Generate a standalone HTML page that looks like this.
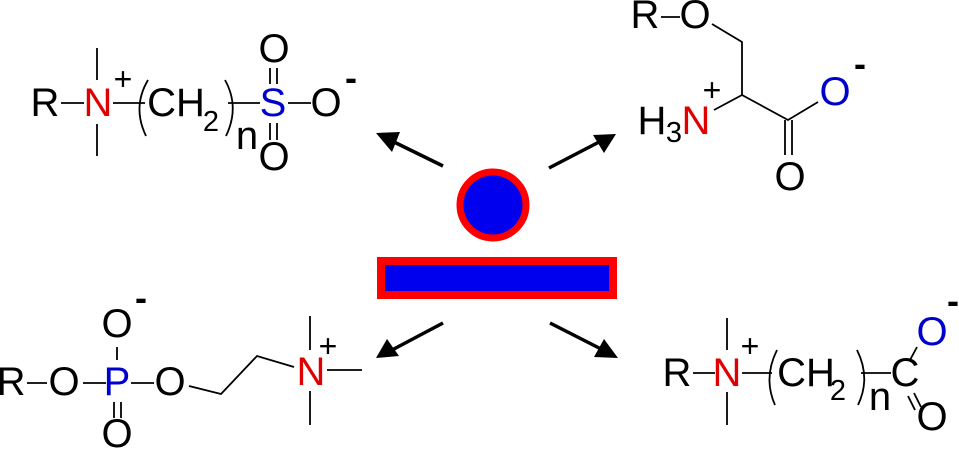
<!DOCTYPE html>
<html><head><meta charset="utf-8"><style>
html,body{margin:0;padding:0;background:#fff;}
svg{display:block}
svg text{font-family:"Liberation Sans",Arial,sans-serif;font-size:40px;text-anchor:middle;fill:#000;}
svg text.s{font-size:29px;}
svg text.p{font-size:32px;}
svg text.m{font-size:36px;font-weight:bold;}
svg text.r{fill:#e00000;}
svg text.b{fill:#0000cc;}
</style></head><body>
<svg width="959" height="450" viewBox="0 0 959 450" xmlns="http://www.w3.org/2000/svg">
<g stroke="#000" stroke-width="1.8" fill="none">
<line x1="61" y1="103" x2="84" y2="103"/>
<line x1="97" y1="48" x2="97" y2="80"/>
<line x1="97" y1="124" x2="97" y2="156"/>
<line x1="113" y1="103" x2="145" y2="103"/>
<path d="M148 80 Q132 107 146 136"/>
<path d="M225 80 Q240 107 226 136"/>
<line x1="228" y1="103" x2="260" y2="103"/>
<line x1="270" y1="68" x2="270" y2="84"/><line x1="277" y1="68" x2="277" y2="84"/>
<line x1="270" y1="123" x2="270" y2="140"/><line x1="277" y1="123" x2="277" y2="140"/>
<line x1="288" y1="103" x2="311" y2="103"/>
<line x1="661" y1="17" x2="680" y2="17"/>
<polyline points="712,24 742,42 742,95 714,110"/>
<polyline points="742,95 788,120 818,102"/>
<line x1="785" y1="120" x2="785" y2="155"/><line x1="792" y1="120" x2="792" y2="155"/>
<line x1="27" y1="383" x2="47" y2="383"/>
<line x1="83" y1="383" x2="106" y2="383"/>
<line x1="131" y1="383" x2="154" y2="383"/>
<line x1="117" y1="347" x2="117" y2="360"/>
<line x1="114" y1="402" x2="114" y2="418"/><line x1="121" y1="402" x2="121" y2="418"/>
<polyline points="189,386 221,394 257,356 294,367"/>
<line x1="310" y1="316" x2="310" y2="350"/>
<line x1="310" y1="391" x2="310" y2="425"/>
<line x1="327" y1="370" x2="362" y2="370"/>
<line x1="693" y1="373" x2="715" y2="373"/>
<line x1="727" y1="318" x2="727" y2="350"/>
<line x1="727" y1="392" x2="727" y2="425"/>
<line x1="742" y1="373" x2="772" y2="373"/>
<path d="M777 350 Q763 378 775 405"/>
<path d="M857 350 Q871 378 858 405"/>
<line x1="861" y1="373" x2="891" y2="373"/>
<line x1="910" y1="360" x2="917" y2="347"/>
<line x1="908" y1="396" x2="915" y2="410"/><line x1="914" y1="393" x2="921" y2="407"/>
</g>
<g stroke="#000" stroke-width="3.5">
<line x1="443" y1="166" x2="392" y2="141"/>
<line x1="549" y1="168" x2="601" y2="141"/>
<line x1="443" y1="323" x2="392" y2="350"/>
<line x1="550" y1="323" x2="603" y2="350"/>
</g>
<g fill="#000">
<polygon points="376,133 400,132 392,152"/>
<polygon points="616,134 604,153 593,135"/>
<polygon points="376,358 387,339 399,356"/>
<polygon points="618,358 594,357 604,339"/>
</g>
<circle cx="493" cy="205" r="33" fill="#0000ee" stroke="#ff0000" stroke-width="7"/>
<rect x="381" y="261" width="232" height="34" fill="#0000ee" stroke="#ff0000" stroke-width="8"/>

<text x="45" y="116">R</text>
<text x="98" y="116" class="r">N</text>
<text x="123" y="90" class="p">+</text>
<text x="176" y="116">CH</text>
<text x="211" y="131" class="s">2</text>
<text x="247" y="149">n</text>
<text x="273" y="116" class="b">S</text>
<text x="274" y="62">O</text>
<text x="274" y="170">O</text>
<text x="326" y="116">O</text>
<text x="351" y="90" class="m">-</text>

<text x="645" y="28">R</text>
<text x="695" y="28">O</text>
<text x="652" y="134">H</text>
<text x="674" y="142" class="s">3</text>
<text x="696" y="134" class="r">N</text>
<text x="712" y="101" class="p">+</text>
<text x="835" y="105" class="b">O</text>
<text x="860" y="76" class="m">-</text>
<text x="790" y="190">O</text>

<text x="11" y="395">R</text>
<text x="64" y="395">O</text>
<text x="117" y="395" class="b">P</text>
<text x="170" y="395">O</text>
<text x="117" y="337">O</text>
<text x="141" y="310" class="m">-</text>
<text x="117" y="447">O</text>
<text x="311" y="385" class="r">N</text>
<text x="328" y="357" class="p">+</text>

<text x="677" y="386">R</text>
<text x="727" y="386" class="r">N</text>
<text x="750" y="357" class="p">+</text>
<text x="806" y="386">CH</text>
<text x="838" y="400" class="s">2</text>
<text x="880" y="410">n</text>
<text x="905" y="386">C</text>
<text x="932" y="345" class="b">O</text>
<text x="953" y="313" class="m">-</text>
<text x="932" y="430">O</text>
</svg>
</body></html>
